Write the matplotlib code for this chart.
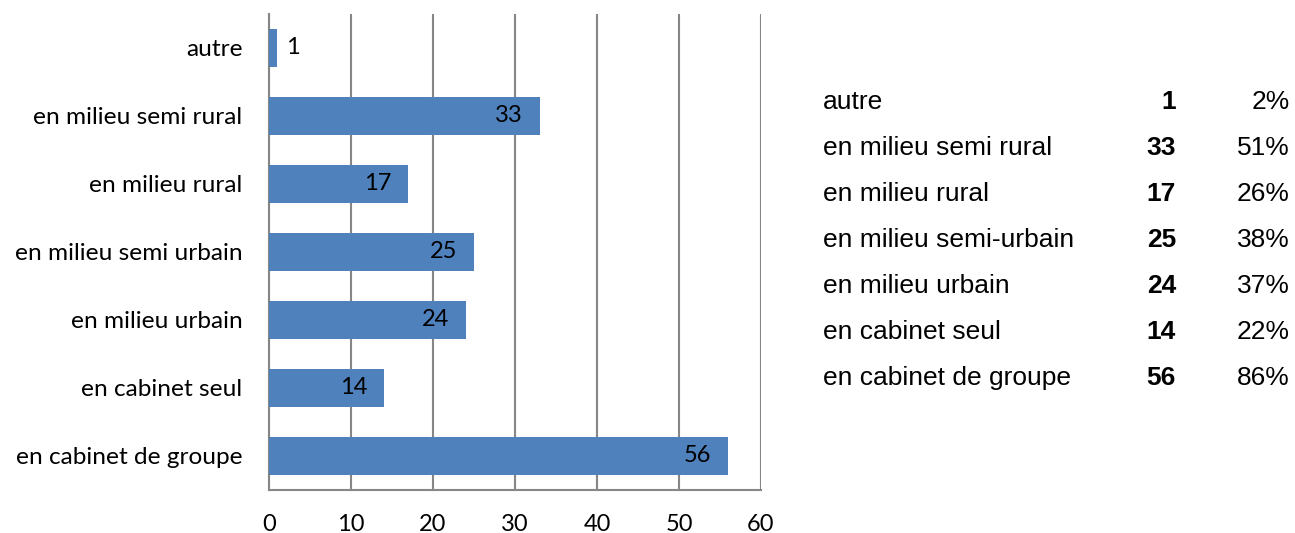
import matplotlib.pyplot as plt

categories = ["en cabinet de groupe", "en cabinet seul", "en milieu urbain",
              "en milieu semi urbain", "en milieu rural", "en milieu semi rural", "autre"]
values = [56, 14, 24, 25, 17, 33, 1]

table_labels = ["autre", "en milieu semi rural", "en milieu rural", "en milieu semi-urbain",
                "en milieu urbain", "en cabinet seul", "en cabinet de groupe"]
table_counts = [1, 33, 17, 25, 24, 14, 56]
table_pcts = ["2%", "51%", "26%", "38%", "37%", "22%", "86%"]

fig = plt.figure(figsize=(12.95, 5.33), dpi=100)
ax = fig.add_axes([269 / 1295, 43 / 533, 492 / 1295, 476 / 533])

ypos = range(len(categories))
ax.barh(ypos, values, height=0.57, color="#4F81BD", zorder=3)
ax.set_xlim(0, 60)
ax.set_ylim(-0.5, len(categories) - 0.5)
ax.set_xticks(range(0, 61, 10))
ax.set_yticks(list(ypos))
ax.set_yticklabels(categories)
ax.xaxis.grid(True, color="#868686", linewidth=1.5, zorder=0)
for s in ["top", "right"]:
    ax.spines[s].set_visible(False)
for s in ["left", "bottom"]:
    ax.spines[s].set_color("#868686")
    ax.spines[s].set_linewidth(1.5)
ax.tick_params(length=0, labelsize=17)
ax.tick_params(axis="y", pad=19, labelsize=17.6)
ax.tick_params(axis="x", pad=17)
for lab in ax.get_xticklabels() + ax.get_yticklabels():
    lab.set_family("Lato")

for y, v in zip(ypos, values):
    if v > 5:
        ax.annotate(str(v), (v, y), xytext=(-12, 0), textcoords="offset points",
                    ha="right", va="center", fontsize=17, family="Lato", zorder=4)
    else:
        ax.annotate(str(v), (v, y), xytext=(6.5, 0), textcoords="offset points",
                    ha="left", va="center", fontsize=17, family="Lato", zorder=4)

# table on the right
for i, (lab, n, p) in enumerate(zip(table_labels, table_counts, table_pcts)):
    ypix = 102 + i * 46
    yf = 1 - ypix / 533
    fig.text(823 / 1295, yf, lab, ha="left", va="center", fontsize=19, family="Liberation Sans")
    fig.text(1176 / 1295, yf, str(n), ha="right", va="center", fontsize=19,
             family="Liberation Sans", weight="bold")
    fig.text(1290 / 1295, yf, p, ha="right", va="center", fontsize=19, family="Liberation Sans")

fig.savefig("out.png", dpi=100)
